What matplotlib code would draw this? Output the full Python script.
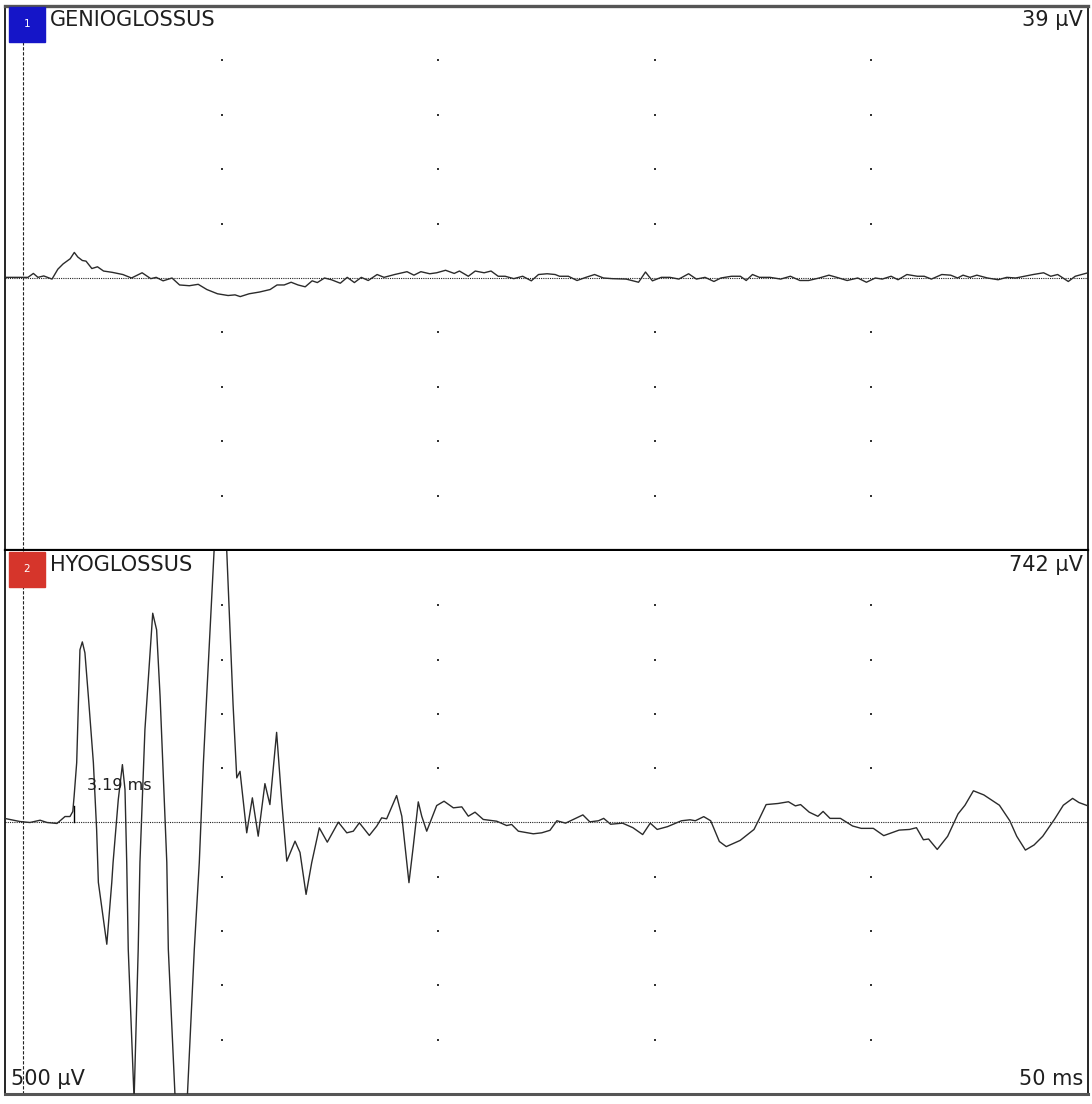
import numpy as np
import matplotlib
matplotlib.use("Agg")
import matplotlib.pyplot as plt

# channel 1 - genioglossus (time in ms, amplitude in uV)
genio_t = np.array([
    0.0, 0.74, 1.06, 1.31, 1.52, 1.79, 2.17, 2.44, 2.68, 3.01, 3.20, 3.36, 3.57, 3.74,
    4.01, 4.27, 4.55, 4.95, 5.44, 5.84, 6.33, 6.73, 6.98, 7.30, 7.71, 8.06, 8.51, 8.92,
    9.32, 9.81, 10.30, 10.62, 10.86, 11.27, 11.75, 12.24, 12.56, 12.89, 13.21, 13.53,
    13.86, 14.18, 14.42, 14.75, 15.07, 15.48, 15.80, 16.13, 16.45, 16.77, 17.18, 17.50,
    17.99, 18.56, 18.88, 19.20, 19.61, 19.93, 20.34, 20.74, 20.98, 21.39, 21.71, 22.12,
    22.44, 22.77, 23.09, 23.49, 23.90, 24.30, 24.63, 25.03, 25.40, 25.60, 26.01, 26.41,
    26.82, 27.22, 27.63, 28.03, 28.68, 29.25, 29.57, 29.89, 30.30, 30.70, 31.11, 31.56,
    31.92, 32.32, 32.73, 33.05, 33.54, 33.95, 34.22, 34.51, 34.83, 35.32, 35.81, 36.26,
    36.70, 37.10, 37.59, 38.04, 38.40, 38.88, 39.37, 39.77, 40.18, 40.50, 40.91, 41.23,
    41.64, 42.12, 42.44, 42.77, 43.25, 43.66, 43.98, 44.23, 44.55, 44.87, 45.36, 45.85,
    46.25, 46.66, 47.06, 47.47, 47.95, 48.28, 48.60, 49.09, 49.41, 50.0])
genio_uv = np.array([
    0.6, 0.6, 0.6, 4.2, 0.6, 1.9, -1.0, 8.1, 12.9, 17.7, 23.5, 19.3, 16.1, 15.5,
    8.7, 10.3, 6.4, 5.2, 3.2, 0.0, 4.8, -0.6, 0.6, -2.6, 0.0, -6.4, -7.1, -5.8,
    -10.6, -14.5, -16.1, -15.5, -17.1, -14.5, -12.9, -10.6, -6.4, -6.4, -3.9, -6.4,
    -8.1, -2.6, -4.2, 0.0, -1.6, -4.8, 0.6, -4.2, 0.6, -2.3, 3.2, 0.6,
    3.2, 5.8, 2.6, 5.8, 3.9, 4.8, 7.1, 4.2, 6.4, 1.6, 6.4, 4.8,
    6.4, 1.6, 1.6, -0.6, 1.6, -2.6, 3.2, 3.9, 3.2, 1.6, 1.6, -2.3,
    0.6, 3.2, 0.0, -0.6, -1.0, -3.9, 5.5, -2.6, 0.6, 0.6, -1.0, 3.9,
    -1.0, 0.6, -3.2, 0.0, 1.6, 1.6, -2.3, 3.2, 0.6, 0.6, -1.0, 1.6,
    -2.3, -2.3, 0.0, 2.6, 0.6, -2.3, 0.0, -3.9, 0.0, -1.0, 1.6, -1.6,
    3.2, 1.6, 1.6, -1.0, 3.2, 2.6, 0.0, 2.6, 0.6, 2.6, 0.0, -1.6,
    0.6, 0.0, 1.6, 3.2, 4.8, 1.6, 3.2, -3.2, 1.6, 4.8])

# channel 2 - hyoglossus (time in ms, amplitude in uV)
hyo_t = np.array([
    0.0, 0.23, 0.69, 1.15, 1.62, 1.94, 2.40, 2.77, 3.00, 3.13, 3.19, 3.31, 3.46, 3.57,
    3.69, 3.85, 4.08, 4.23, 4.31, 4.70, 4.93, 4.99, 5.23, 5.42, 5.54, 5.62, 5.69, 5.96,
    6.15, 6.23, 6.46, 6.82, 7.00, 7.16, 7.47, 7.54, 8.13, 8.74, 8.97, 9.16, 9.31, 9.65,
    9.93, 10.24, 10.53, 10.70, 10.85, 11.16, 11.42, 11.69, 12.00, 12.23, 12.54, 12.78,
    13.01, 13.39, 13.62, 13.90, 14.16, 14.51, 14.88, 15.39, 15.78, 16.08, 16.36, 16.82,
    17.16, 17.39, 17.62, 18.08, 18.32, 18.65, 18.85, 19.08, 19.24, 19.47, 19.93, 20.27,
    20.70, 21.09, 21.39, 21.70, 22.08, 22.70, 23.16, 23.39, 23.70, 24.39, 24.78, 25.16,
    25.48, 25.88, 26.28, 26.68, 27.00, 27.40, 27.64, 27.96, 28.51, 28.99, 29.44, 29.79,
    30.11, 30.59, 31.23, 31.63, 31.87, 32.26, 32.58, 32.98, 33.30, 33.94, 34.58, 34.82,
    35.14, 35.69, 36.17, 36.49, 36.73, 37.13, 37.53, 37.77, 38.09, 38.57, 39.13, 39.53,
    40.09, 40.57, 41.28, 41.76, 42.08, 42.40, 42.64, 43.04, 43.52, 44.00, 44.32, 44.71,
    45.19, 45.91, 46.39, 46.71, 47.11, 47.51, 47.91, 48.46, 48.86, 49.29, 49.58, 50.0])
hyo_uv = np.array([
    37, 28, 9, 0, 21, 0, -9, 55, 55, 101, 239, 551, 1590, 1663,
    1562, 1158, 551, -64, -551, -1121, -551, -368, 211, 533, 303, -368, -1167, -2550,
    -1167, -368, 855, 1927, 1774, 1161, -368, -1167, -3740, -1167, -368, 551, 1158, 2490,
    3520, 2490, 1084, 411, 471, -95, 227, -126, 358, 165, 830, 184,
    -356, -172, -276, -662, -370, -49, -181, 3, -95, -80, -3, -119,
    -34, 43, 34, 248, 58, -554, -218, 190, 58, -80, 156, 196,
    135, 144, 58, 95, 28, 12, -28, -18, -80, -104, -95, -72,
    16, -6, 32, 70, 6, 16, 38, -16, -6, -48, -111, -6,
    -64, -38, 16, 25, 16, 54, 16, -175, -222, -165, -64, 32,
    165, 175, 191, 153, 165, 95, 57, 102, 38, 38, -32, -54,
    -54, -121, -70, -64, -48, -159, -152, -248, -127, 79, 159, 292,
    254, 159, 16, -127, -254, -207, -127, 32, 159, 222, 184, 153])

channel_names = ["GENIOGLOSSUS", "HYOGLOSSUS"]
channel_nums = ["1", "2"]
channel_colors = ["#1515c8", "#d6352b"]
amp_labels = ["39 µV", "742 µV"]
sens_uv = [50, 500]          # uV per division
stim_ms = 0.81
latency_ms = 3.19
latency_uv = 150
sweep_ms = 50

W, H = 1092, 1104
fig = plt.figure(figsize=(W / 100, H / 100), dpi=100)
fig.patch.set_facecolor("white")

left = 5 / W
width = 1083 / W
ax1 = fig.add_axes([left, 1 - 550 / H, width, 544 / H])
ax2 = fig.add_axes([left, 1 - 1094 / H, width, 543 / H])

traces = [(genio_t, genio_uv), (hyo_t, hyo_uv)]
grid_x = np.arange(10, sweep_ms, 10)
grid_div = np.array([-4, -3, -2, -1, 1, 2, 3, 4])
txt_col = "#1f1f1f"

for i, ax in enumerate([ax1, ax2]):
    s = sens_uv[i]
    ax.set_xlim(0, sweep_ms)
    ax.set_ylim(-5 * s, 5 * s)
    ax.set_xticks([])
    ax.set_yticks([])
    gx, gy = np.meshgrid(grid_x, grid_div * s)
    ax.plot(gx.ravel(), gy.ravel(), ls="none", marker="s", ms=1.6, mew=0,
            color="#333333", zorder=1)
    ax.axhline(0, color="#222222", lw=0.8, ls=(0, (1, 1)), zorder=2)
    ax.axvline(stim_ms, color="#222222", lw=0.8, ls=(0, (3, 1.5)), zorder=2)
    t, v = traces[i]
    ax.plot(t, v, color="#2b2b2b", lw=1.0, zorder=3, solid_joinstyle="round")
    for sp in ax.spines.values():
        sp.set_color("black")
        sp.set_linewidth(1.2)

    # channel badge + name
    ax.add_patch(plt.Rectangle((4 / 1083, 1 - 36 / 544), 36 / 1083, 35 / 544,
                               transform=ax.transAxes, color=channel_colors[i],
                               zorder=4, clip_on=False))
    ax.text(22 / 1083, 1 - 18 / 544, channel_nums[i], transform=ax.transAxes,
            ha="center", va="center", fontsize=7.5, color="white", zorder=5)
    ax.text(45 / 1083, 1 - 14 / 544, channel_names[i], transform=ax.transAxes,
            ha="left", va="center", fontsize=15, color=txt_col, zorder=5)
    ax.text(1 - 5 / 1083, 1 - 14 / 544, amp_labels[i], transform=ax.transAxes,
            ha="right", va="center", fontsize=15, color=txt_col, zorder=5)

ax1.spines["top"].set_color("#555555")
ax1.spines["top"].set_linewidth(2.4)
ax1.spines["bottom"].set_linewidth(1.6)
ax2.spines["top"].set_visible(False)
ax2.spines["bottom"].set_color("#555555")
ax2.spines["bottom"].set_linewidth(2.2)

# latency marker
ax2.plot([latency_ms, latency_ms], [0, latency_uv], color="black", lw=1.0, zorder=3)
ax2.text(latency_ms + 0.6, 340, f"{latency_ms:.2f} ms", fontsize=11.5,
         color=txt_col, ha="left", va="center", zorder=5)

ax2.text(6 / 1083, 15 / 543, "500 µV", transform=ax2.transAxes, ha="left",
         va="center", fontsize=15, color=txt_col, zorder=5)
ax2.text(1 - 5 / 1083, 15 / 543, f"{sweep_ms} ms", transform=ax2.transAxes,
         ha="right", va="center", fontsize=15, color=txt_col, zorder=5)

fig.savefig("out.png", dpi=100, facecolor="white")
